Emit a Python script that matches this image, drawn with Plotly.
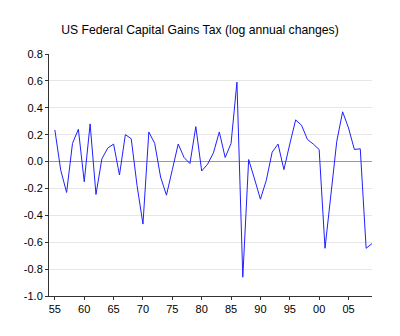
import plotly.graph_objects as go

years = list(range(1955, 2010))
values = [0.235, -0.065, -0.23, 0.135, 0.24, -0.15, 0.28, -0.245, 0.02, 0.1,
          0.13, -0.1, 0.2, 0.17, -0.18, -0.465, 0.22, 0.135, -0.115, -0.25,
          -0.06, 0.13, 0.03, -0.015, 0.26, -0.07, -0.02, 0.065, 0.22, 0.03,
          0.135, 0.59, -0.86, 0.015, -0.13, -0.28, -0.14, 0.07, 0.13, -0.06,
          0.13, 0.31, 0.27, 0.165, 0.13, 0.09, -0.645, -0.27, 0.15, 0.37,
          0.25, 0.09, 0.095, -0.645, -0.61]
xtick_vals = [1955, 1960, 1965, 1970, 1975, 1980, 1985, 1990, 1995, 2000, 2005]
xtick_text = ["55", "60", "65", "70", "75", "80", "85", "90", "95", "00", "05"]
ytick_vals = [-1.0, -0.8, -0.6, -0.4, -0.2, 0.0, 0.2, 0.4, 0.6, 0.8]
ytick_text = ["-1.0", "-0.8", "-0.6", "-0.4", "-0.2", "0.0", "0.2", "0.4", "0.6", "0.8"]

fig = go.Figure()
fig.add_trace(go.Scatter(x=years, y=values, mode="lines",
                         line=dict(color="#2020ff", width=1), hoverinfo="skip"))

fig.update_layout(
    width=400, height=336,
    margin=dict(l=49, r=28, t=54, b=40),
    paper_bgcolor="white", plot_bgcolor="white",
    showlegend=False,
    font=dict(family="Liberation Sans, Arial, sans-serif", size=11, color="#000"),
    title=dict(text="US Federal Capital Gains Tax (log annual changes)",
               x=0.5, xanchor="center", y=1 - 30/336, yanchor="middle",
               font=dict(size=12.2, color="#000")),
    xaxis=dict(range=[1954, 2009], tickvals=xtick_vals, ticktext=xtick_text,
               showgrid=False, zeroline=False, showline=True, linecolor="#333",
               linewidth=1, ticks="outside", ticklen=3, tickcolor="#333",
               fixedrange=True),
    yaxis=dict(range=[-1.0, 0.8], tickvals=ytick_vals, ticktext=ytick_text,
               showgrid=True, gridcolor="#e6e6e6", gridwidth=1,
               zeroline=True, zerolinecolor="#999", zerolinewidth=1,
               showline=True, linecolor="#333", linewidth=1,
               ticks="outside", ticklen=3, tickcolor="#333", fixedrange=True),
)

fig.write_html("out.html")
